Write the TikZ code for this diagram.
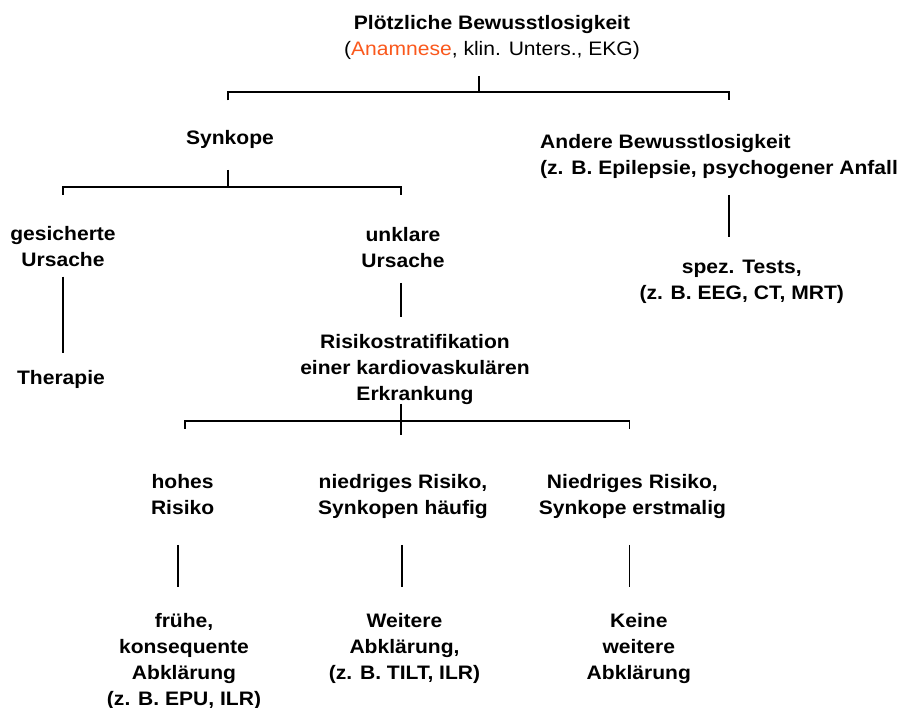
\documentclass[tikz,border=0pt]{standalone}
\usepackage{fontspec}
\setmainfont{Liberation Sans}[FakeStretch=1.08]
\definecolor{anam}{RGB}{250,88,28}
\begin{document}
\begin{tikzpicture}[x=1pt,y=-1pt,
  lbl/.style={font=\fontsize{19.5}{26}\selectfont\bfseries, align=center, anchor=base, inner sep=0pt},
  link/.style={line width=1.8pt, line cap=butt, line join=miter}]
\useasboundingbox (0,0) rectangle (914,708);
% text nodes (anchor base = baseline of the last line)
\node[lbl] (title) at (492,56) {Plötzliche Bewusstlosigkeit\\{\mdseries(\textcolor{anam}{Anamnese}, klin. Unters., EKG)}};
\node[lbl] (synk) at (230,145) {Synkope};
\node[lbl, align=left, anchor=base west] (andere) at (540,174.3) {Andere Bewusstlosigkeit\\(z. B. Epilepsie, psychogener Anfall};
\node[lbl] (ges) at (63,266.7) {gesicherte\\Ursache};
\node[lbl] (unkl) at (403,268) {unklare\\Ursache};
\node[lbl] (spez) at (741.7,300) {spez. Tests,\\(z. B. EEG, CT, MRT)};
\node[lbl] (ther) at (61,385) {Therapie};
\node[lbl] (risk) at (415,401) {Risikostratifikation\\einer kardiovaskulären\\Erkrankung};
\node[lbl] (hoch) at (182.6,514.3) {hohes\\Risiko};
\node[lbl] (nied) at (403,514.3) {niedriges Risiko,\\Synkopen häufig};
\node[lbl] (erst) at (632.4,514.3) {Niedriges Risiko,\\Synkope erstmalig};
\node[lbl] (frueh) at (184,705) {frühe,\\konsequente\\Abklärung\\(z. B. EPU, ILR)};
\node[lbl] (weit) at (404.5,679) {Weitere\\Abklärung,\\(z. B. TILT, ILR)};
\node[lbl] (keine) at (638.8,679) {Keine\\weitere\\Abklärung};
% coordinates
\coordinate (t0) at (479,76);   \coordinate (t1) at (479,92);
\coordinate (b1L) at (228,92);  \coordinate (b1Ld) at (228,100.5);
\coordinate (b1R) at (729.3,92); \coordinate (b1Rd) at (729.3,100.5);
\coordinate (s0) at (228,170);  \coordinate (s1) at (228,187);
\coordinate (b2L) at (63.3,187); \coordinate (b2Ld) at (63.3,195);
\coordinate (b2R) at (401,187); \coordinate (b2Rd) at (401,195);
\coordinate (a0) at (729.3,195); \coordinate (a1) at (729.3,236.7);
\coordinate (g0) at (63.3,276.7); \coordinate (g1) at (63.3,353);
\coordinate (u0) at (401,283);  \coordinate (u1) at (401,316.7);
\coordinate (r0) at (400.7,404); \coordinate (r1) at (400.7,435);
\coordinate (b3L) at (184.8,420.7); \coordinate (b3Ld) at (184.8,429);
\coordinate (b3R) at (629.5,420.7); \coordinate (b3Rd) at (629.5,429);
\coordinate (h0) at (177.7,545); \coordinate (h1) at (177.7,587.5);
\coordinate (n0) at (402,545);   \coordinate (n1) at (402,587.5);
\coordinate (e0) at (629.5,545); \coordinate (e1) at (629.5,587.5);
% connectors
\draw[link] (t0) -- (t1);
\draw[link] (b1Ld) -- (b1L) -- (b1R) -- (b1Rd);
\draw[link] (s0) -- (s1);
\draw[link] (b2Ld) -- (b2L) -- (b2R) -- (b2Rd);
\draw[link] (a0) -- (a1);
\draw[link] (g0) -- (g1);
\draw[link] (u0) -- (u1);
\draw[link] (r0) -- (r1);
\draw[link] (b3Ld) -- (b3L) -- (b3R) -- (b3Rd);
\draw[link] (h0) -- (h1);
\draw[link] (n0) -- (n1);
\draw[link] (e0) -- (e1);
\end{tikzpicture}
\end{document}
